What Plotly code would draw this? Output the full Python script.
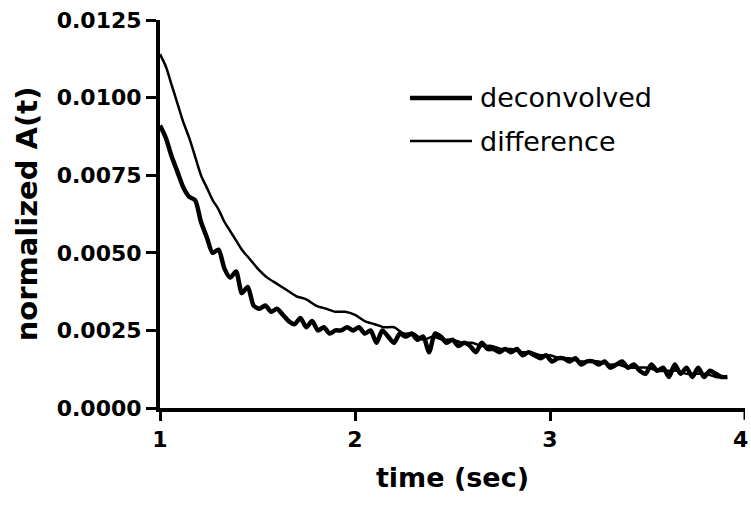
import plotly.graph_objects as go

# deconvolved series (thick line)
t_deconv = [1.00, 1.03, 1.06, 1.09, 1.12, 1.15, 1.18, 1.21, 1.24, 1.27, 1.30, 1.33, 1.36, 1.39,
            1.42, 1.45, 1.48, 1.51, 1.54, 1.57, 1.60, 1.63, 1.66, 1.69, 1.72, 1.75, 1.78, 1.81,
            1.84, 1.87, 1.90, 1.93, 1.96, 1.99, 2.02, 2.05, 2.08, 2.11, 2.14, 2.17, 2.20, 2.23,
            2.26, 2.29, 2.32, 2.35, 2.38, 2.41, 2.44, 2.47, 2.50, 2.53, 2.56, 2.59, 2.62, 2.65,
            2.68, 2.71, 2.74, 2.77, 2.80, 2.83, 2.86, 2.89, 2.92, 2.95, 2.98, 3.01, 3.04, 3.07,
            3.10, 3.13, 3.16, 3.19, 3.22, 3.25, 3.28, 3.31, 3.34, 3.37, 3.40, 3.43, 3.46, 3.49,
            3.52, 3.55, 3.58, 3.61, 3.64, 3.67, 3.70, 3.73, 3.76, 3.79, 3.82, 3.85, 3.88, 3.91]
v_deconv = [0.0091, 0.0087, 0.0081, 0.0076, 0.0071, 0.0068, 0.0067, 0.0060, 0.0055, 0.0050,
            0.0051, 0.0045, 0.0042, 0.0044, 0.0037, 0.0039, 0.0033, 0.0032, 0.0033, 0.0031,
            0.0032, 0.0030, 0.0028, 0.0027, 0.0029, 0.0026, 0.0028, 0.0025, 0.0026, 0.0024,
            0.0025, 0.0025, 0.0026, 0.0025, 0.0026, 0.0024, 0.0025, 0.0021, 0.0025, 0.0023,
            0.0021, 0.0024, 0.0023, 0.0024, 0.0022, 0.0023, 0.0018, 0.0024, 0.0023, 0.0021,
            0.0022, 0.0020, 0.0021, 0.0020, 0.0018, 0.0021, 0.0019, 0.0019, 0.0018, 0.0019,
            0.0018, 0.0019, 0.0017, 0.0018, 0.0017, 0.0016, 0.0017, 0.0015, 0.0016, 0.0016,
            0.0015, 0.0016, 0.0014, 0.0015, 0.0015, 0.0014, 0.0015, 0.0013, 0.0014, 0.0015,
            0.0013, 0.0014, 0.0012, 0.0011, 0.0014, 0.0012, 0.0013, 0.0010, 0.0014, 0.0011,
            0.0013, 0.0010, 0.0013, 0.0010, 0.0012, 0.0011, 0.0010, 0.0010]

# difference series (thin line)
t_diff = [1.00, 1.03, 1.06, 1.09, 1.12, 1.15, 1.18, 1.21, 1.24, 1.27, 1.30, 1.33, 1.36, 1.39,
          1.42, 1.46, 1.50, 1.55, 1.60, 1.65, 1.70, 1.75, 1.80, 1.85, 1.90, 1.95, 2.00, 2.05,
          2.10, 2.15, 2.20, 2.25, 2.30, 2.35, 2.40, 2.45, 2.50, 2.55, 2.60, 2.65, 2.70, 2.75,
          2.80, 2.85, 2.90, 2.95, 3.00, 3.05, 3.10, 3.15, 3.20, 3.25, 3.30, 3.35, 3.40, 3.45,
          3.50, 3.55, 3.60, 3.65, 3.70, 3.75, 3.80, 3.85, 3.90]
v_diff = [0.0114, 0.0110, 0.0104, 0.0098, 0.0092, 0.0087, 0.0081, 0.0075, 0.0071, 0.0067,
          0.0064, 0.0060, 0.0057, 0.0054, 0.0051, 0.0048, 0.0045, 0.0042, 0.0040, 0.0038,
          0.0036, 0.0035, 0.0033, 0.0032, 0.0031, 0.0031, 0.0030, 0.0028, 0.0027, 0.0026,
          0.0026, 0.0024, 0.0024, 0.0022, 0.0023, 0.0022, 0.0022, 0.0021, 0.0021, 0.0020,
          0.0020, 0.0019, 0.0019, 0.0018, 0.0018, 0.0017, 0.0017, 0.0016, 0.0016, 0.0015,
          0.0015, 0.0015, 0.0014, 0.0014, 0.0013, 0.0013, 0.0013, 0.0012, 0.0012, 0.0012,
          0.0011, 0.0011, 0.0011, 0.0010, 0.0010]

x_ticks = [1, 2, 3, 4]
x_ticklabels = ["1", "2", "3", "4"]
y_ticks = [0.0, 0.0025, 0.005, 0.0075, 0.01, 0.0125]
y_ticklabels = ["0.0000", "0.0025", "0.0050", "0.0075", "0.0100", "0.0125"]
series_names = ["deconvolved", "difference"]

fig = go.Figure()
fig.add_trace(go.Scatter(x=t_deconv, y=v_deconv, mode="lines", name=series_names[0],
                         line=dict(color="black", width=4.5, shape="spline", smoothing=0.7),
                         showlegend=False))
fig.add_trace(go.Scatter(x=t_diff, y=v_diff, mode="lines", name=series_names[1],
                         line=dict(color="black", width=2.5, shape="spline", smoothing=0.7),
                         showlegend=False))

font_tick = dict(family="DejaVu Sans", size=22, color="black", weight="bold")
font_title = dict(family="DejaVu Sans", size=27, color="black", weight="bold")

fig.update_layout(
    width=751, height=505,
    margin=dict(l=160, r=6, t=20, b=97),
    paper_bgcolor="white", plot_bgcolor="white",
    showlegend=False,
    xaxis=dict(range=[1, 4], tickvals=x_ticks[:-1], ticktext=x_ticklabels[:-1],
               showgrid=False, zeroline=False, showline=True, linecolor="black", linewidth=4,
               ticks="outside", ticklen=9, tickwidth=3, tickcolor="black",
               tickfont=font_tick,
               title=dict(text="time (sec)", font=font_title, standoff=18)),
    yaxis=dict(range=[0, 0.0125], tickvals=y_ticks, ticktext=y_ticklabels,
               showgrid=False, zeroline=False, showline=True, linecolor="black", linewidth=4,
               ticks="outside", ticklen=10, tickwidth=3, tickcolor="black",
               tickfont=font_tick,
               title=dict(text="normalized A(t)", font=dict(family="DejaVu Sans", size=29,
                                                              color="black", weight="bold"),
                          standoff=12)),
)

# last x tick (mark + label at the right edge)
fig.add_shape(type="line", xref="x", yref="paper", x0=x_ticks[-1], x1=x_ticks[-1],
              y0=0, y1=-0.03, line=dict(color="black", width=3))
fig.add_annotation(xref="x", yref="paper", x=x_ticks[-1], y=-0.045, text=x_ticklabels[-1],
                   showarrow=False, xanchor="center", yanchor="top", xshift=-5, font=font_tick)

# manual legend
leg_y = [0.799, 0.688]
leg_w = [4.5, 2.5]
for name, yy, w in zip(series_names, leg_y, leg_w):
    fig.add_shape(type="line", xref="paper", yref="paper", x0=0.4274, x1=0.5333, y0=yy, y1=yy,
                  line=dict(color="black", width=w))
    fig.add_annotation(xref="paper", yref="paper", x=0.5436, y=yy, text=name, showarrow=False,
                       xanchor="left", yanchor="middle",
                       font=dict(family="DejaVu Sans", size=27, color="black"))

fig.write_html("out.html")
